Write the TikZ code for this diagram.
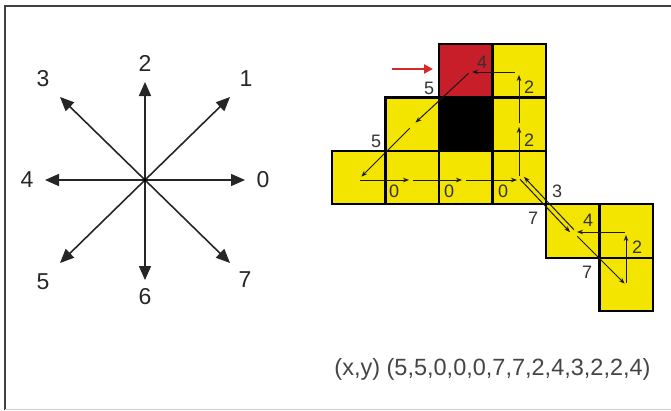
\documentclass[tikz,border=0pt]{standalone}
\usepackage{fontspec}
\setmainfont{Liberation Sans}
\usetikzlibrary{arrows.meta,calc}
\definecolor{cellyellow}{HTML}{F4E500}
\definecolor{cellred}{HTML}{C81E2A}
\definecolor{txtgray}{HTML}{454545}
\definecolor{arrred}{HTML}{D42A2A}
\begin{document}
\begin{tikzpicture}[x=1pt,y=-1pt,
  cell/.style={draw=black, line width=2.2pt, minimum width=53.5pt, minimum height=53.4pt, inner sep=0pt, fill=cellyellow},
  ray/.style={line width=1.6pt, color=black!85, -{Triangle[length=14pt,width=12pt]}},
  dirlab/.style={font=\fontsize{23}{23}\selectfont, text=black!85, inner sep=0pt},
  chain/.style={line width=1pt, color=black!90, -{Stealth[length=6pt,width=4.5pt]}, shorten >=2pt, shorten <=2pt},
  clab/.style={font=\fontsize{18}{18}\selectfont, text=black!80, inner sep=0pt}]
\useasboundingbox (0,0) rectangle (671,410);
% frame
\draw[line width=2pt, black!75] (5,410) -- (5,6) -- (671,6);
\draw[line width=1pt, black!20] (5,409) -- (671,409);

% compass
\coordinate (o) at (145,180);
\coordinate (t0) at (245,180);
\coordinate (t1) at (230,97);
\coordinate (t2) at (145,82);
\coordinate (t3) at (60,97);
\coordinate (t4) at (45,180);
\coordinate (t5) at (60,263);
\coordinate (t6) at (145,280);
\coordinate (t7) at (230,263);
\foreach \i in {0,...,7} { \draw[ray] (o) -- (t\i); }
\fill[black] (o) circle (1.8pt);
\node[dirlab] (l0) at (263,180) {0};
\node[dirlab] (l1) at (246,79) {1};
\node[dirlab] (l2) at (145,63) {2};
\node[dirlab] (l3) at (43,79) {3};
\node[dirlab] (l4) at (27,180) {4};
\node[dirlab] (l5) at (43,282) {5};
\node[dirlab] (l6) at (145,297) {6};
\node[dirlab] (l7) at (245,280) {7};

% cells
\node[cell, fill=cellred] (c20) at (465.75,70.7) {};
\node[cell] (c30) at (519.25,70.7) {};
\node[cell] (c11) at (412.25,124.1) {};
\node[cell, fill=black] (c21) at (465.75,124.1) {};
\node[cell] (c31) at (519.25,124.1) {};
\node[cell] (c02) at (358.75,177.5) {};
\node[cell] (c12) at (412.25,177.5) {};
\node[cell] (c22) at (465.75,177.5) {};
\node[cell] (c32) at (519.25,177.5) {};
\node[cell] (c43) at (572.75,230.9) {};
\node[cell] (c53) at (626.25,230.9) {};
\node[cell] (c54) at (626.25,284.3) {};

% chain points
\coordinate (a0) at (470,72);
\coordinate (a1) at (414,124);
\coordinate (a2) at (360,178);
\coordinate (h2) at (358,180);
\coordinate (h3) at (411,180);
\coordinate (h4) at (464,180);
\coordinate (h5) at (519,180);
\coordinate (a5) at (521,177);
\coordinate (a6) at (573,232);
\coordinate (a7) at (626,285);
\coordinate (a8) at (626,233);
\coordinate (v5) at (519,178);
\coordinate (a11) at (519,125);
\coordinate (a12) at (519,73);
\coordinate (h12) at (517,72);
\coordinate (h6) at (627,232);
\coordinate (h6b) at (575,232);

\draw[chain] (a0) -- (a1);
\draw[chain, shorten <=6pt] (a1) -- (a2);
\draw[chain] (h2) -- (h3);
\draw[chain] (h3) -- (h4);
\draw[chain] (h4) -- (h5);
\draw[chain, shorten <=1pt] ($(a5)+(-1.6,1.6)$) -- ($(a6)+(-1.6,1.6)$);
\draw[chain, shorten <=1pt] ($(a6)+(1.6,-1.6)$) -- ($(a5)+(1.6,-1.6)$);
\draw[chain, shorten <=6pt] (a6) -- (a7);
\draw[chain] (a7) -- (a8);
\draw[chain] (h6) -- (h6b);
\draw[chain] (v5) -- (a11);
\draw[chain] (a11) -- (a12);
\draw[chain] (h12) -- (a0);

% chain labels
\node[clab] (k4a) at (482,62) {4};
\node[clab] (k2a) at (529,87) {2};
\node[clab] (k2b) at (529,140) {2};
\node[clab] (k5a) at (429,88) {5};
\node[clab] (k5b) at (376,141) {5};
\node[clab] (k0a) at (394,191) {0};
\node[clab] (k0b) at (449,191) {0};
\node[clab] (k0c) at (503,191) {0};
\node[clab] (k3) at (557,191) {3};
\node[clab] (k7a) at (533,218) {7};
\node[clab] (k4b) at (588,220) {4};
\node[clab] (k2c) at (637,247) {2};
\node[clab] (k7b) at (587,272) {7};

% start arrow
\coordinate (ra) at (392,69);
\coordinate (rb) at (433,69);
\draw[arrred, line width=2.6pt, -{Triangle[length=9pt,width=9pt]}] (ra) -- (rb);

% code text
\node[font=\fontsize{23.5}{23.5}\selectfont, text=txtgray, inner sep=0pt] (code) at (492.5,369) {(x,y) (5,5,0,0,0,7,7,2,4,3,2,2,4)};
\end{tikzpicture}
\end{document}
